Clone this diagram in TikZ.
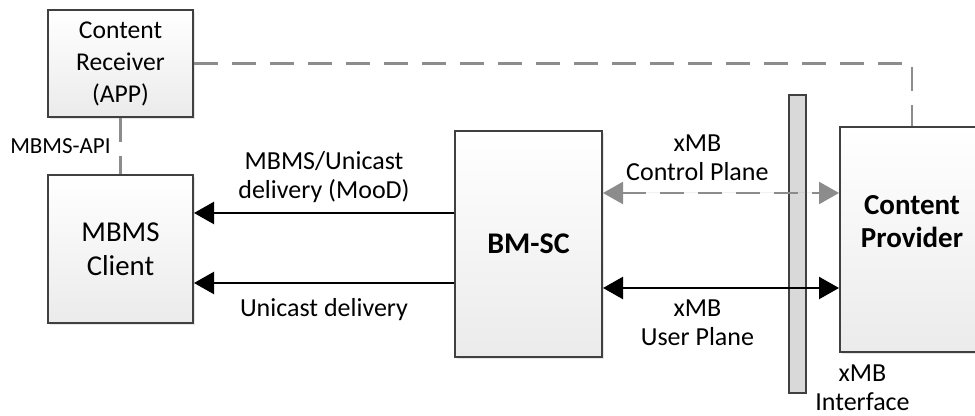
\documentclass[tikz,border=0pt]{standalone}
\usepackage{fontspec}
\setmainfont{Carlito}
\usetikzlibrary{arrows.meta,shadows}

\definecolor{boxline}{HTML}{404040}
\definecolor{boxfill}{HTML}{EBEBEB}
\definecolor{barfill}{HTML}{D9D9D9}
\definecolor{dashgray}{HTML}{8C8C8C}

\tikzset{
  entity/.style={draw=boxline, line width=1pt, top color=white, bottom color=boxfill,
    inner sep=0pt, align=center,
    drop shadow={shadow xshift=1.2pt, shadow yshift=-1.2pt, opacity=0.2}},
  lbl/.style={align=center, font=\fontsize{13}{14.5}\selectfont},
  flow/.style={line width=1.2pt, -{Triangle[length=10pt, width=11pt]}},
  both/.style={line width=1.2pt, {Triangle[length=10pt, width=11pt]}-{Triangle[length=10pt, width=11pt]}},
  ctrl/.style={draw=dashgray, line width=1.2pt, dash pattern=on 12pt off 7pt},
}

\begin{document}
\begin{tikzpicture}[x=0.5pt,y=-0.5pt]
  \useasboundingbox (0,0) rectangle (975,416);
  \clip (0,0) rectangle (975,416);

  % boxes
  \node[entity, minimum width=72.5pt, minimum height=53.5pt,
    font=\fontsize{12.8}{16}\selectfont] (recv) at (120.5,63.5) {Content\\Receiver\\(APP)};
  \node[entity, minimum width=72.5pt, minimum height=74pt,
    font=\fontsize{14.4}{17}\selectfont] (client) at (120.5,249) {MBMS\\Client};
  \node[entity, minimum width=73.5pt, minimum height=113pt,
    font=\bfseries\fontsize{15}{16.5}\selectfont] (bmsc) at (528.5,244) {BM-SC};
  \node[entity, minimum width=72pt, minimum height=112.5pt] (cp) at (912,239.5) {};
  \node[font=\bfseries\fontsize{14.5}{16.5}\selectfont, align=center] (cptext)
    at ([yshift=9pt]cp.center) {Content\\Provider};

  % xMB interface bar
  \node[draw=boxline, line width=1pt, fill=barfill, minimum width=8.5pt,
    minimum height=149pt, inner sep=0pt] (xmb) at (797.5,244) {};
  \node[lbl] (ifc) at ([xshift=32.5pt,yshift=3pt]xmb.south) {xMB\\Interface};

  % dashed links
  \draw[ctrl] (recv.east) -| (cp.north);
  \draw[ctrl] (recv.south) -- (client.north)
    node[midway, left=1pt, font=\fontsize{11.5}{13}\selectfont] {MBMS-API};

  % delivery arrows
  \coordinate (mood) at ([yshift=15.5pt]bmsc.west);
  \coordinate (uni) at ([yshift=-19.5pt]bmsc.west);
  \draw[flow] (mood) -- (mood -| client.east)
    node[midway, above=1pt, lbl] {MBMS/Unicast\\delivery (MooD)};
  \draw[flow] (uni) -- (uni -| client.east)
    node[midway, below=4pt, lbl] {Unicast delivery};

  % xMB planes
  \coordinate (cplane) at ([yshift=25.5pt]bmsc.east);
  \coordinate (uplane) at ([yshift=-22pt]bmsc.east);
  \draw[ctrl, {Triangle[length=10pt, width=11pt]}-{Triangle[length=10pt, width=11pt]}, fill=dashgray]
    (cplane) -- (cplane -| cp.west)
    node[pos=0.4, above=2pt, lbl, text=black] {xMB\\Control Plane};
  \draw[both] (uplane) -- (uplane -| cp.west)
    node[pos=0.4, below=2pt, lbl] {xMB\\User Plane};
\end{tikzpicture}
\end{document}
